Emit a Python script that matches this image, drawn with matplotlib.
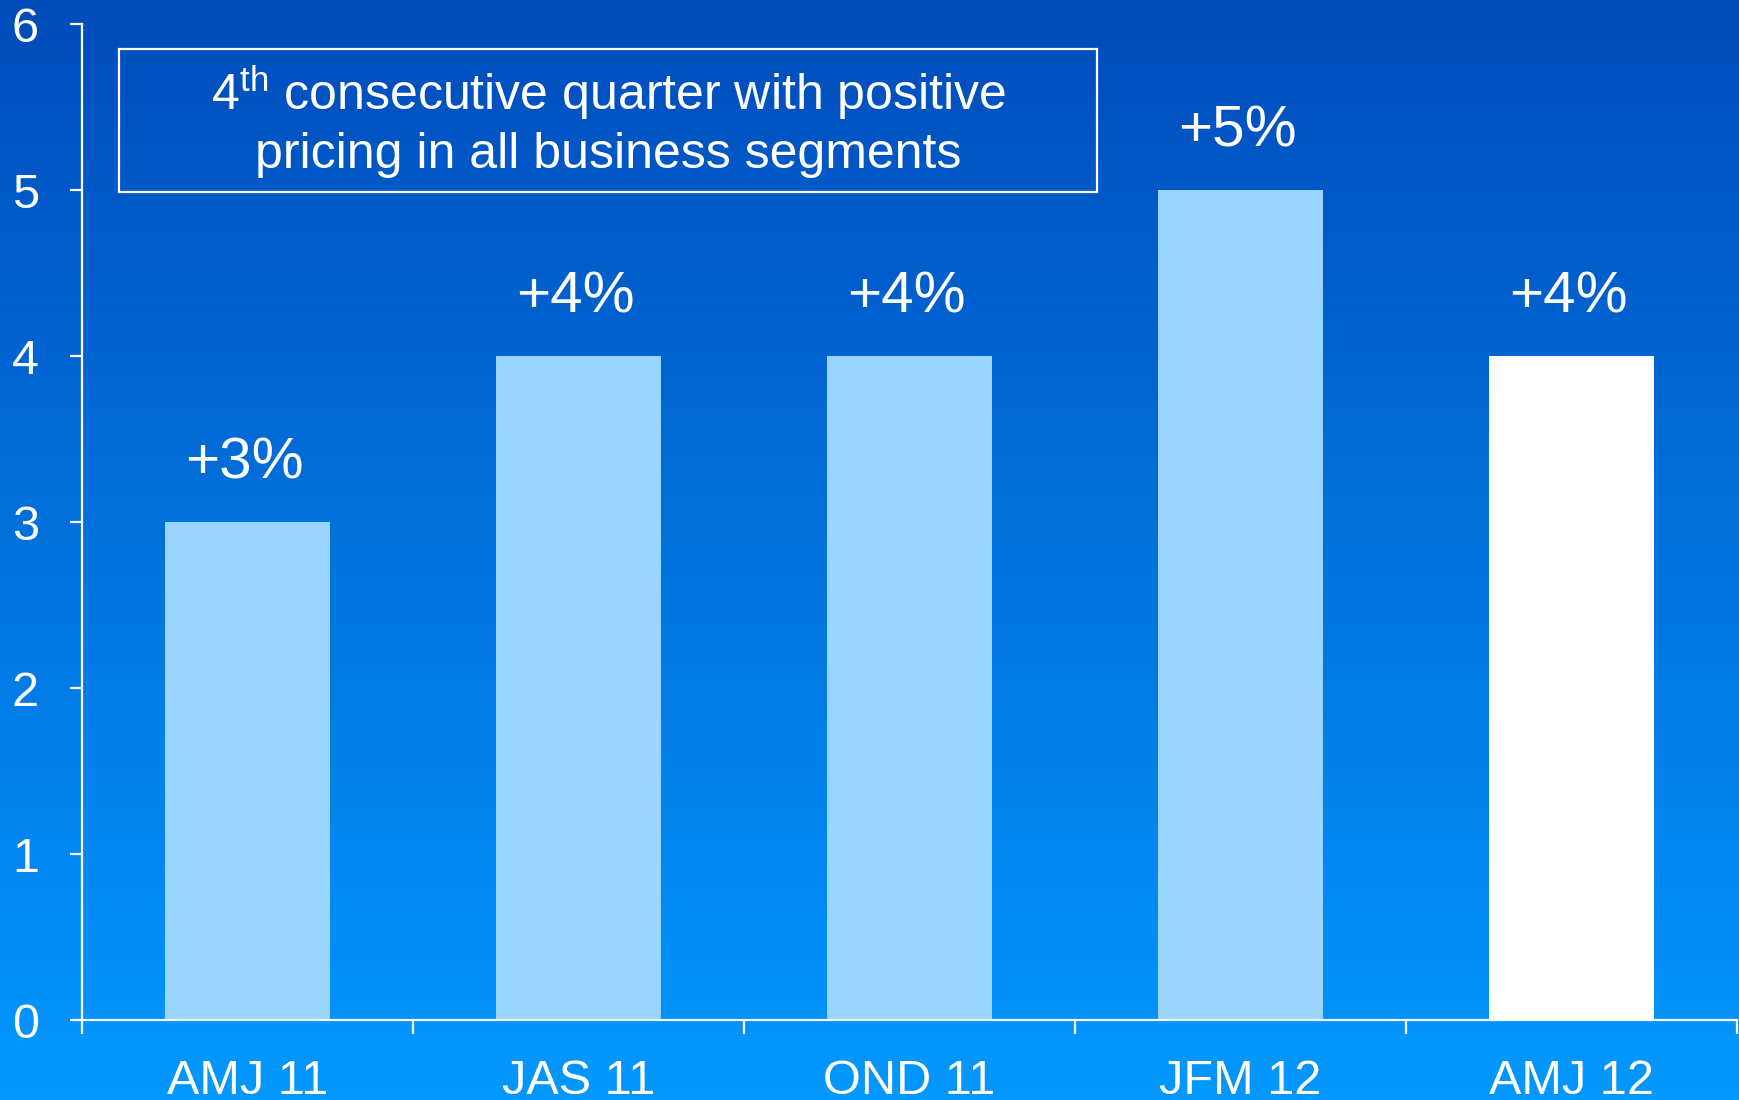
import numpy as np
import matplotlib
matplotlib.use("Agg")
import matplotlib.pyplot as plt
from matplotlib.colors import LinearSegmentedColormap
from matplotlib.patches import Rectangle

plt.rcParams["font.family"] = ["Liberation Sans", "DejaVu Sans"]
plt.rcParams["mathtext.fontset"] = "custom"
plt.rcParams["mathtext.rm"] = "Liberation Sans"

# Quarterly price change, %
quarters = ["AMJ 11", "JAS 11", "OND 11", "JFM 12", "AMJ 12"]
price_change = [3, 4, 4, 5, 4]
bar_labels = ["+3%", "+4%", "+4%", "+5%", "+4%"]
y_ticks = [0, 1, 2, 3, 4, 5, 6]

BG_TOP = "#004CBB"
BG_BOTTOM = "#0398FF"
BAR_COLOR = "#99D5FF"
HIGHLIGHT = "#FFFFFF"

fig = plt.figure(figsize=(17.39, 11.0), dpi=100)

# vertical background gradient behind everything
bg = fig.add_axes([0, 0, 1, 1], zorder=0)
cmap = LinearSegmentedColormap.from_list("bg", [BG_BOTTOM, BG_TOP])
bg.imshow(np.linspace(0, 1, 256).reshape(-1, 1), aspect="auto", cmap=cmap,
          origin="lower", extent=[0, 1, 0, 1])
bg.set_axis_off()

ax = fig.add_axes([0.0472, 0.0727, 0.9517, 0.9053], zorder=1)
ax.set_facecolor("none")

x = np.arange(len(quarters))
colors = [BAR_COLOR] * (len(quarters) - 1) + [HIGHLIGHT]
bars = ax.bar(x, price_change, width=0.5, color=colors, zorder=2)

for b, lab in zip(bars, bar_labels):
    ax.annotate(lab, (b.get_x() + b.get_width() / 2, b.get_height()),
                xytext=(-2, 42), textcoords="offset points",
                ha="center", va="center", color="white", fontsize=42)

ax.set_xlim(-0.5, len(quarters) - 0.5)
ax.set_ylim(0, 6)
ax.set_yticks(y_ticks)
ax.set_xticks(x)
ax.set_xticklabels(quarters)
ax.set_xticks(np.arange(len(quarters) + 1) - 0.5, minor=True)

for side in ["top", "right"]:
    ax.spines[side].set_visible(False)
for side in ["left", "bottom"]:
    ax.spines[side].set_color("white")
    ax.spines[side].set_linewidth(1.6)

ax.tick_params(axis="y", colors="white", labelsize=35, length=9, width=1.6, pad=22)
ax.tick_params(axis="x", which="major", colors="white", labelsize=35, length=0, pad=28)
ax.tick_params(axis="x", which="minor", colors="white", length=10, width=1.6)

# callout box
ax.add_patch(Rectangle((-0.388, 4.99), 2.954, 0.86, fill=False,
                       edgecolor="white", linewidth=1.6, zorder=3))
ax.text(1.089, 5.42,
        "4$^{\\mathrm{th}}$ consecutive quarter with positive\npricing in all business segments",
        ha="center", va="center", color="white", fontsize=36, linespacing=1.25)

fig.savefig("out.png", dpi=100)
